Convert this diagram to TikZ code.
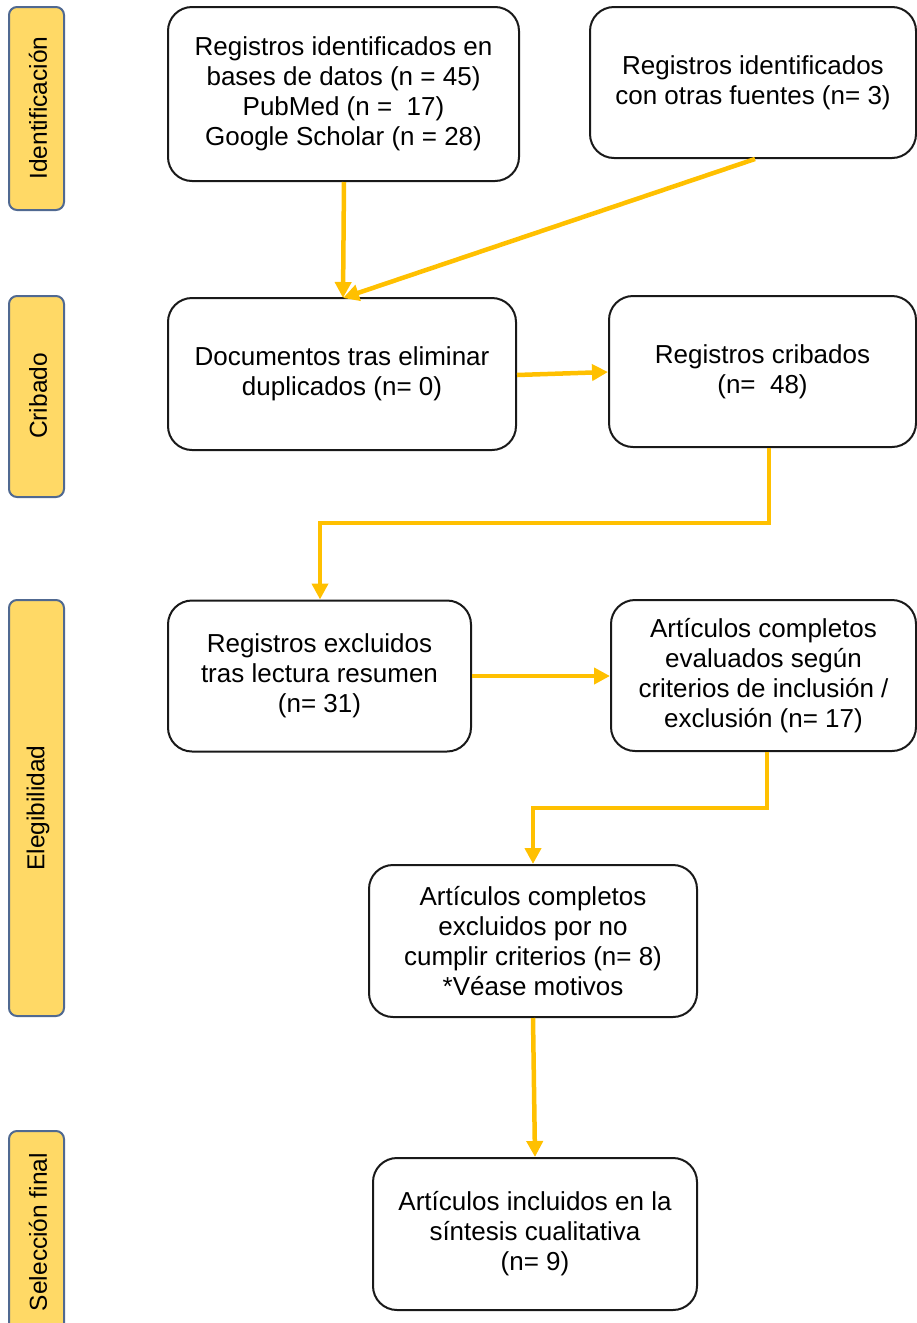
\documentclass[tikz,border=0pt]{standalone}
\usepackage{fontspec}
\setmainfont{Liberation Sans}
\usetikzlibrary{arrows.meta}
\definecolor{arrowy}{HTML}{FFC000}
\definecolor{sidefill}{HTML}{FFD966}
\definecolor{sideedge}{RGB}{80,105,145}
\begin{document}
\begin{tikzpicture}[x=1pt,y=-1pt,
  mainbox/.style={draw=black!90,line width=2pt,rounded corners=24pt,align=center,
    font=\fontsize{26}{30}\selectfont,inner sep=0pt},
  sidebox/.style={draw=sideedge,fill=sidefill,line width=2pt,rounded corners=8pt,
    inner sep=0pt},
  sidetext/.style={rotate=90,font=\fontsize{24.5}{30}\selectfont},
  flow/.style={draw=arrowy,line width=4.5pt,-{Triangle[width=16pt,length=16pt]}},
]
\useasboundingbox (0,0) rectangle (917,1323);
% side labels
\node[sidebox,minimum width=55pt,minimum height=203pt] (s1) at (36.5,108.5) {};
\node[sidetext] (t1) at (38,108) {Identificación};
\node[sidebox,minimum width=55pt,minimum height=201pt] (s2) at (36.5,396.5) {};
\node[sidetext] (t2) at (38,396) {Cribado};
\node[sidebox,minimum width=55pt,minimum height=416pt] (s3) at (36.5,808) {};
\node[sidetext] (t3) at (38,808) {Elegibilidad};
\node[sidebox,minimum width=55pt,minimum height=210pt] (s4) at (36.5,1236) {};
\node[sidetext] (t4) at (38,1232) {Selección final};
% main boxes
\node[mainbox,minimum width=351pt,minimum height=174pt] (A) at (343.5,94)
  {Registros identificados en\\bases de datos (n = 45)\\PubMed (n =\ \ 17)\\Google Scholar (n = 28)};
\node[mainbox,minimum width=326pt,minimum height=151pt] (B) at (753,82.5)
  {Registros identificados\\con otras fuentes (n= 3)};
\node[mainbox,minimum width=348pt,minimum height=152pt] (C) at (342,374)
  {Documentos tras eliminar\\duplicados (n= 0)};
\node[mainbox,minimum width=307pt,minimum height=151pt] (D) at (762.5,371.5)
  {Registros cribados\\(n=\ \ 48)};
\node[mainbox,minimum width=303pt,minimum height=151pt] (E) at (319.5,676)
  {Registros excluidos\\tras lectura resumen\\(n= 31)};
\node[mainbox,minimum width=305pt,minimum height=151pt] (F) at (763.5,675.5)
  {Artículos completos\\evaluados según\\criterios de inclusión /\\exclusión (n= 17)};
\node[mainbox,minimum width=328pt,minimum height=152pt] (G) at (533,941)
  {Artículos completos\\excluidos por no\\cumplir criterios (n= 8)\\*Véase motivos};
\node[mainbox,minimum width=324pt,minimum height=152pt] (H) at (535,1234)
  {Artículos incluidos en la\\síntesis cualitativa\\(n= 9)};
% connectors
\coordinate (cTop) at (343,298);
\draw[flow] (A.south -| 344,0) -- (cTop);
\draw[flow] (B.south -| 755,0) -- (cTop);
\draw[flow] (C.east |- 0,375) -- (D.west |- 0,372);
\draw[flow] (D.south -| 769,0) |- (320,523) -- (E.north -| 320,0);
\draw[flow] (E.east |- 0,676) -- (F.west |- 0,676);
\draw[flow] (F.south -| 767,0) |- (533,808) -- (G.north -| 533,0);
\draw[flow] (G.south -| 533,0) -- (H.north -| 535,0);
\end{tikzpicture}
\end{document}
